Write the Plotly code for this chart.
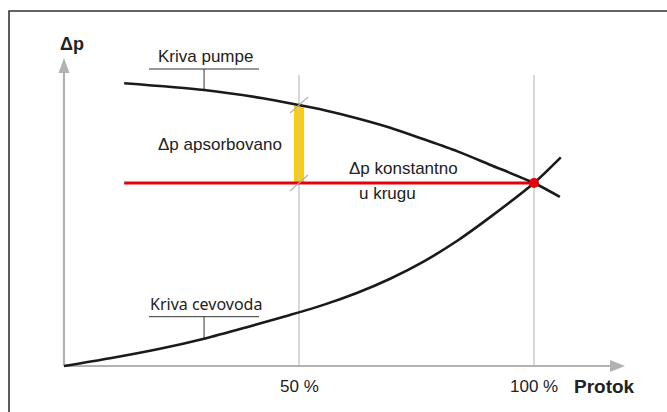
import plotly.graph_objects as go

# ---- data ----
flow_pump = [12.8, 29.8, 42.3, 50, 55.2, 62.3, 69.4, 76.4, 83.6, 90.6, 100, 105.5]
dp_pump = [154.5, 150.8, 146.3, 142.6, 139.9, 135.4, 130.2, 124.0, 117.4, 110.0, 100, 92.4]

flow_pipe = [0, 9.8, 20.4, 29.8, 38.9, 48.1, 55.2, 62.3, 69.4, 76.4, 83.6, 90.6, 100, 105.7]
dp_pipe = [0, 4.2, 9.4, 14.9, 21.2, 27.9, 33.4, 39.9, 47.7, 56.9, 68.3, 81.2, 100, 114.0]

op_flow = 100          # operating point (100 %)
op_dp = 100
red_start_flow = 12.8  # constant-Δp line starts here
half_flow = 50

tick_positions = [50, 100]
tick_labels = ["50 %", "100 %"]
x_title = "Protok"
y_title = "Δp"

# ---- pixel <-> data helpers (figure is 667 x 412, no margins) ----
W, H = 667, 412
PX0, PXS = 64, 4.7     # pixel x of flow 0, pixels per flow unit
PY0, PYS = 366, 1.83   # pixel y of Δp 0, pixels per Δp unit


def X(px):
    return (px - PX0) / PXS


def Y(py):
    return (PY0 - py) / PYS


FONT = "Liberation Sans, Arial, sans-serif"
CURVE = "#1a1a1a"
AXIS = "#b2b2b2"
VLINE = "#c6c6c6"
RED = "#e8000d"

fig = go.Figure()

# yellow bar (absorbed Δp at 50 %)
pump_half = dp_pump[flow_pump.index(half_flow)]
fig.add_trace(go.Bar(x=[half_flow], y=[pump_half - op_dp], base=[op_dp],
                     width=10 / PXS, marker=dict(color="#ffcc00", line_width=0)))

# vertical reference lines
for t in tick_positions:
    fig.add_trace(go.Scatter(x=[t, t], y=[0, Y(75)], mode="lines",
                             line=dict(color=VLINE, width=1.4)))

# axes
fig.add_trace(go.Scatter(x=[0, X(612)], y=[0, 0], mode="lines",
                         line=dict(color=AXIS, width=2.2)))
fig.add_trace(go.Scatter(x=[0, 0], y=[0, Y(72)], mode="lines",
                         line=dict(color=AXIS, width=2.2)))

# leader lines for labels
lead_flow = flow_pump[1]
fig.add_trace(go.Scatter(x=[X(149), X(259)], y=[Y(69), Y(69)], mode="lines",
                         line=dict(color="#333333", width=1)))
fig.add_trace(go.Scatter(x=[lead_flow, lead_flow], y=[Y(69), dp_pump[1]], mode="lines",
                         line=dict(color="#333333", width=1)))
lead_flow2 = flow_pipe[3]
fig.add_trace(go.Scatter(x=[X(149), X(259)], y=[Y(316.7), Y(316.7)], mode="lines",
                         line=dict(color="#333333", width=1)))
fig.add_trace(go.Scatter(x=[lead_flow2, lead_flow2], y=[Y(316.7), dp_pipe[3]], mode="lines",
                         line=dict(color="#333333", width=1)))

# red constant Δp line
fig.add_trace(go.Scatter(x=[red_start_flow, op_flow], y=[op_dp, op_dp], mode="lines",
                         line=dict(color=RED, width=3.2)))

# curves
fig.add_trace(go.Scatter(x=flow_pump, y=dp_pump, mode="lines",
                         line=dict(color=CURVE, width=2.6, shape="spline", smoothing=0.8)))
fig.add_trace(go.Scatter(x=flow_pipe, y=dp_pipe, mode="lines",
                         line=dict(color=CURVE, width=2.6, shape="spline", smoothing=0.8)))

# grey slash marks at the bar ends
dx, dy = 9 / PXS, 8 / PYS
for yy in [pump_half, op_dp]:
    fig.add_trace(go.Scatter(x=[half_flow - dx, half_flow + dx], y=[yy - dy, yy + dy],
                             mode="lines", line=dict(color="#b0b0b0", width=1.2)))

# operating point
fig.add_trace(go.Scatter(x=[op_flow], y=[op_dp], mode="markers",
                         marker=dict(color=RED, size=10, line_width=0)))

# arrowheads
xt, xb, xh = X(625), X(610), 6 / PYS
yt, yb, yw = Y(58), Y(73), 5.5 / PXS
shapes = [
    dict(type="path", xref="x", yref="y",
         path=f"M {xb},{xh} L {xt},0 L {xb},{-xh} Z",
         fillcolor=AXIS, line=dict(width=0)),
    dict(type="path", xref="x", yref="y",
         path=f"M {-yw},{yb} L 0,{yt} L {yw},{yb} Z",
         fillcolor=AXIS, line=dict(width=0)),
    # outer frame
    dict(type="rect", xref="paper", yref="paper",
         x0=9 / W, x1=1.02, y0=-0.02, y1=1 - 11 / H,
         line=dict(color="#333333", width=1.6), fillcolor="rgba(0,0,0,0)", layer="above"),
]

TXT = "#222222"


def ann(text, px, py, size=17, bold=False, family=FONT):
    t = f"<b>{text}</b>" if bold else text
    return dict(text=t, x=X(px), y=Y(py), xref="x", yref="y", showarrow=False,
                xanchor="center", yanchor="middle",
                font=dict(family=family, size=size, color=TXT))


annotations = [
    ann(y_title, 71.5, 43.5, size=18, bold=True),
    ann("Kriva pumpe", 205, 56),
    ann("Δp apsorbovano", 220, 144),
    ann("Δp konstantno", 403, 168),
    ann("u krugu", 387.5, 193),
    ann("Kriva cevovoda", 206, 304, size=16, family="Noto Sans, Open Sans, sans-serif"),
    ann(tick_labels[0], PX0 + tick_positions[0] * PXS, 386),
    ann(tick_labels[1], PX0 + tick_positions[1] * PXS, 386),
    ann(x_title, 604.5, 386, size=19, bold=True),
]

fig.update_layout(
    width=W, height=H,
    margin=dict(l=0, r=0, t=0, b=0, pad=0),
    paper_bgcolor="white", plot_bgcolor="white",
    showlegend=False, hovermode=False,
    xaxis=dict(visible=False, range=[X(0), X(W)], fixedrange=True),
    yaxis=dict(visible=False, range=[Y(H), Y(0)], fixedrange=True),
    shapes=shapes, annotations=annotations,
)

fig.write_html("out.html", config={"displayModeBar": False},
               post_script="document.body.style.margin='0';document.body.style.overflow='hidden';")
